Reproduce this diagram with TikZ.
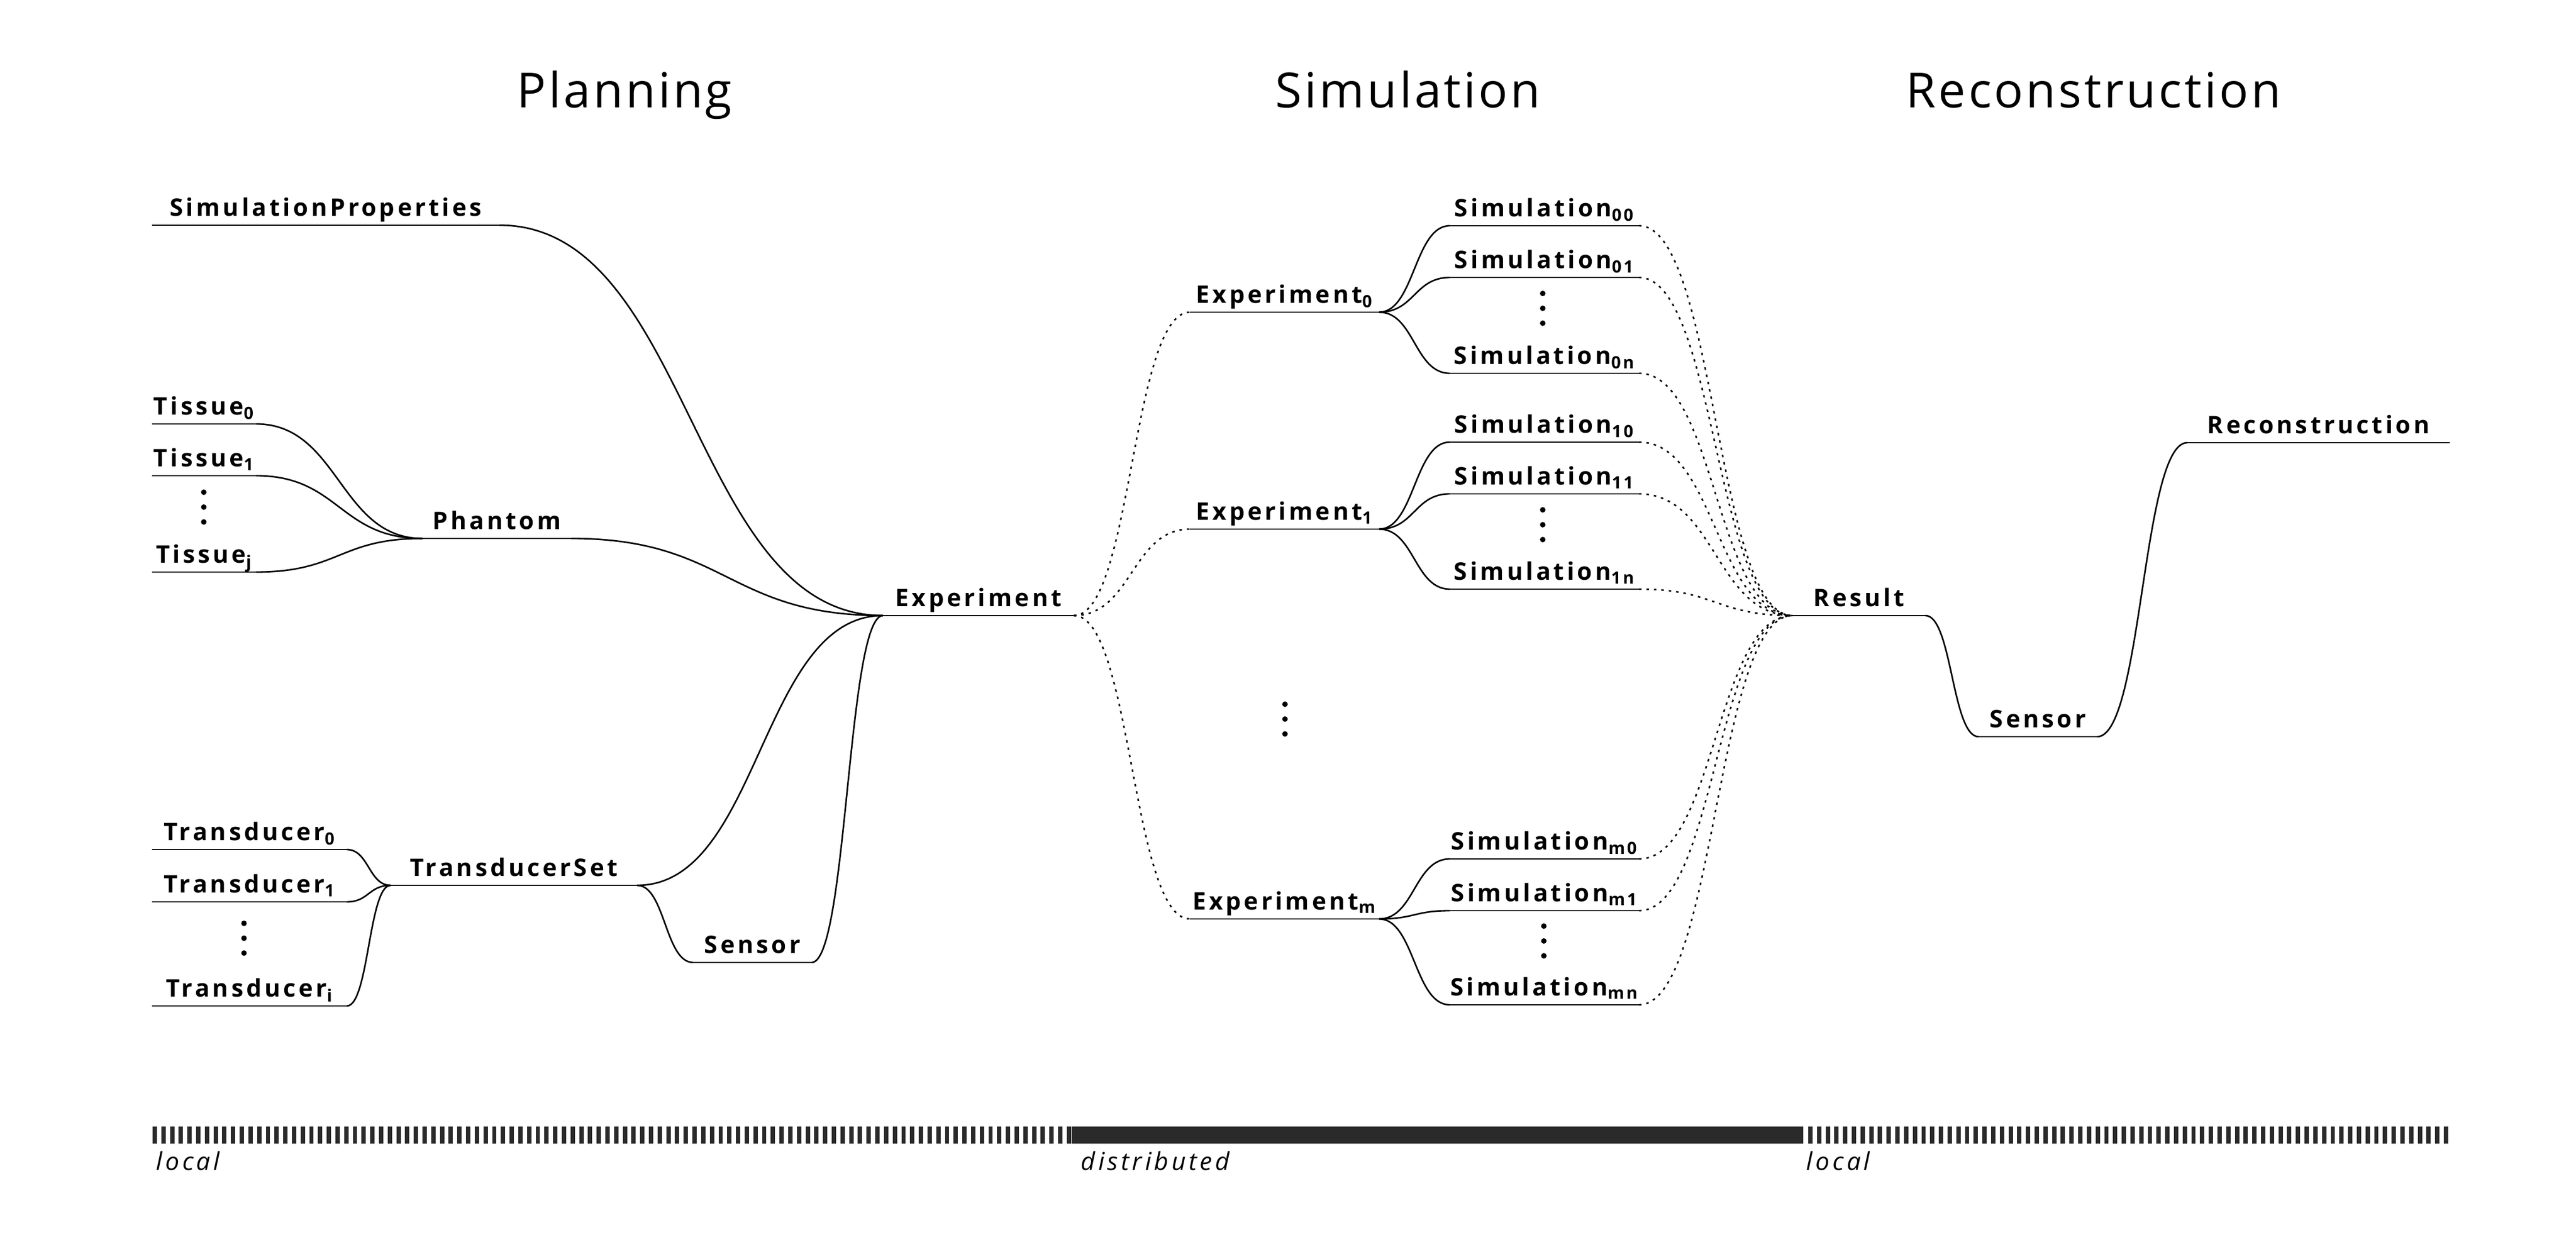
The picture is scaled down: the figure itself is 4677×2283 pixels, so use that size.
\documentclass[tikz,border=0pt]{standalone}
\usepackage{fontspec}
\setmainfont{Open Sans}
\newfontfamily\lblfam[LetterSpace=12]{Open Sans}
\newfontfamily\ttlfam[LetterSpace=5.5]{Open Sans}
\newcommand\lbl{\lblfam\bfseries\fontsize{12.5pt}{15pt}\selectfont}
\newcommand\ttl{\ttlfam\fontsize{25pt}{30pt}\selectfont}
\newcommand\barlbl{\lblfam\itshape\fontsize{12.8pt}{15pt}\selectfont}
\newcommand\ix[1]{\textsubscript{#1}}
\usetikzlibrary{calc}
\definecolor{bargray}{RGB}{42,42,42}
\tikzset{
  item/.style={font=\lbl, inner xsep=0pt, inner ysep=0.16cm, text depth=0pt, anchor=south, minimum width=#1},
  wire/.style={line width=0.8pt},
  flow/.style={line width=0.8pt, dash pattern=on 0.045cm off 0.09cm},
  curvy/.style={to path={let \p1=(\tikztostart), \p2=(\tikztotarget) in
      .. controls ({(\x1+\x2)/2},\y1) and ({(\x1+\x2)/2},\y2) .. (\tikztotarget)}},
  bar/.style={line width=0.31cm, bargray},
  stripes/.style={bar, dash pattern=on 0.079cm off 0.079cm},
}
\begin{document}
\begin{tikzpicture}[x=0.01cm, y=-0.01cm]
    \useasboundingbox (0,0) rectangle (4677,2283);
    %\draw[gray, dashed] (0,0) grid[step=100] (4677,2283);

    \node[font=\ttl, anchor=base] (tplan) at (1134,196) {Planning};
    \node[font=\ttl, anchor=base] (tsim) at (2556,196) {Simulation};
    \node[font=\ttl, anchor=base] (trec) at (3801,196) {Reconstruction};

    \node[item=6.29cm] (sp) at (591.5,409) {SimulationProperties};
    \node[item=1.87cm] (t0) at (370.5,770) {Tissue\ix{0}};
    \node[item=1.87cm] (t1) at (370.5,864) {Tissue\ix{1}};
    \node[item=1.87cm] (tj) at (370.5,1039) {Tissue\ix{j}};
    \node[item=2.68cm] (ph) at (902,978) {Phantom};
    \node[item=3.52cm] (tr0) at (453,1543) {Transducer\ix{0}};
    \node[item=3.52cm] (tr1) at (453,1638) {Transducer\ix{1}};
    \node[item=3.52cm] (tri) at (453,1827) {Transducer\ix{i}};
    \node[item=4.46cm] (ts) at (933,1608) {TransducerSet};
    \node[item=2.14cm] (sn) at (1366,1748) {Sensor};
    \node[item=3.45cm] (ex) at (1776.5,1118) {Experiment};

    \foreach \k/\y in {0/567, 1/961, m/1669}
        \node[item=3.42cm] (ex\k) at (2332,\y) {Experiment\ix{\k}};
    \foreach \k/\y in {00/410, 01/504, 0n/678, 10/803, 11/897, 1n/1070, m0/1560, m1/1654, mn/1825}
        \node[item=3.42cm] (s\k) at (2804,\y) {Simulation\ix{\k}};

    \node[item=2.40cm] (res) at (3375,1118) {Result};
    \node[item=2.14cm] (sn2) at (3700,1338) {Sensor};
    \node[item=4.75cm] (rec) at (4209.5,804) {Reconstruction};

    \foreach \n in {sp,t0,t1,tj,ph,tr0,tr1,tri,ts,sn,ex,ex0,ex1,exm,s00,s01,s0n,s10,s11,s1n,sm0,sm1,smn,res,sn2,rec}
        \draw[wire] (\n.south west) -- (\n.south east);

    \foreach \n in {sp,ph,ts,sn}
        \draw[wire] (\n.south east) to[curvy] (ex.south west);
    \foreach \n in {t0,t1,tj}
        \draw[wire] (\n.south east) to[curvy] (ph.south west);
    \foreach \n in {tr0,tr1,tri}
        \draw[wire] (\n.south east) to[curvy] (ts.south west);
    \draw[wire] (ts.south east) to[curvy] (sn.south west);

    \foreach \k in {0,1,m} {
        \draw[flow] (ex.south east) to[curvy] (ex\k.south west);
        \foreach \j in {0,1,n}
            \draw[wire] (ex\k.south east) to[curvy] (s\k\j.south west);
    }
    \foreach \k in {00,01,0n,10,11,1n,m0,m1,mn}
        \draw[flow] (s\k.south east) to[curvy] (res.south west);

    \draw[wire] (res.south east) to[curvy] (sn2.south west);
    \draw[wire] (sn2.south east) to[curvy] (rec.south west);

    \foreach \x/\y in {370/921, 443/1704, 2801/560, 2801/953, 2803/1709, 2333/1306}
        \foreach \d in {-27,0,27}
            \fill (\x,\y+\d) circle (0.05cm);

    \draw[stripes] (277,2061.5) -- (1946,2061.5);
    \draw[bar] (1946,2061.5) -- (3274,2061.5);
    \draw[stripes] (3283,2061.5) -- (4445,2061.5);

    \node[font=\barlbl, inner sep=0pt, anchor=base west] (loc1) at (283,2125) {local};
    \node[font=\barlbl, inner sep=0pt, anchor=base west] (dist) at (1962,2125) {distributed};
    \node[font=\barlbl, inner sep=0pt, anchor=base west] (loc2) at (3279,2125) {local};
\end{tikzpicture}
\end{document}
